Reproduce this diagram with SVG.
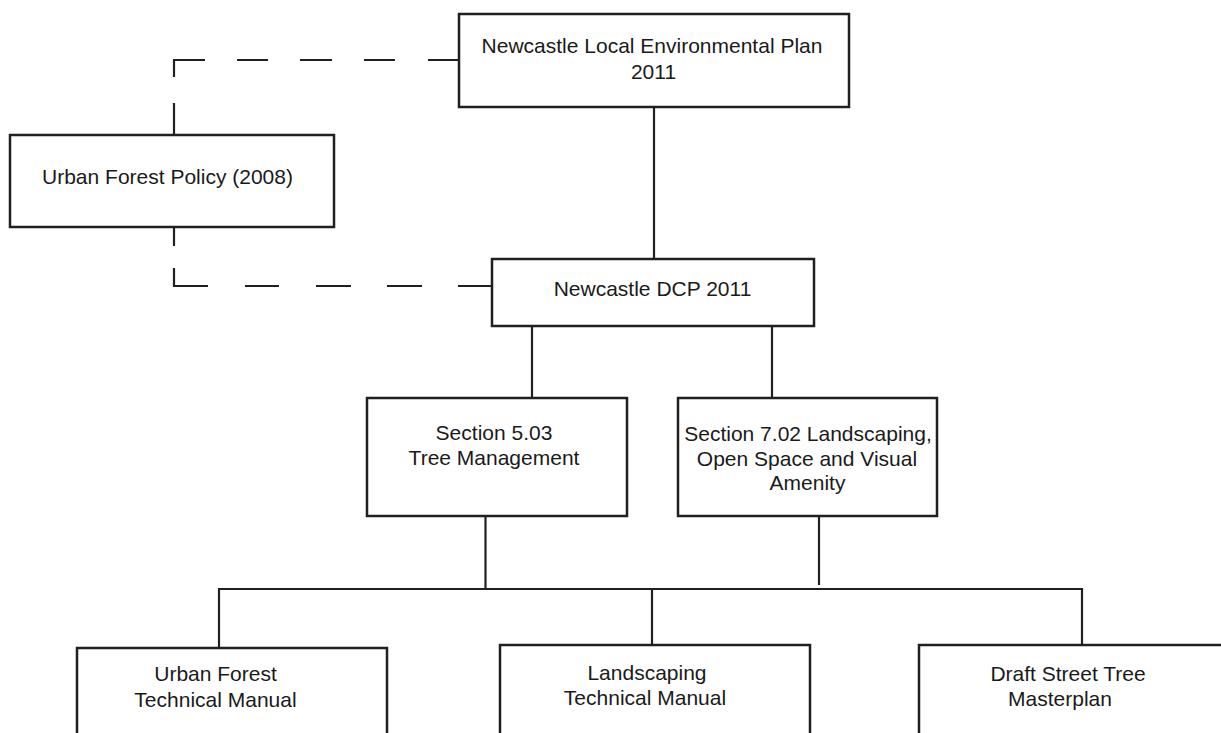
<svg xmlns="http://www.w3.org/2000/svg" width="1221" height="733" viewBox="0 0 1221 733">
<style>
.box{fill:#fff;stroke:#231f20;stroke-width:2.5}
.ln{stroke:#231f20;stroke-width:2.2;fill:none;stroke-linecap:butt}
.t{font-family:"Liberation Sans",Arial,sans-serif;font-size:21px;fill:#1a1a1a;text-anchor:middle}
</style>
<rect width="1221" height="733" fill="#fff"/>
<g id="connectors">
<!-- dashed: LEP to Urban Forest Policy -->
<path class="ln" d="M459 60H428M395 60H364M332 60H300M268 60H237M205 60H174V77M174 103V135"/>
<!-- dashed: Urban Forest Policy to DCP -->
<path class="ln" d="M174 227V246M174 268V286H208M245 286H279M316 286H351M387 286H422M458 286H492"/>
<!-- solid -->
<path class="ln" d="M654 107V259"/>
<path class="ln" d="M532 326V398M772 326V398"/>
<path class="ln" d="M485.5 516V589M819 516V585"/>
<path class="ln" d="M219 648V589H1082V645M652 589V645"/>
</g>
<g id="lep">
<rect class="box" x="459" y="14" width="390" height="93"/>
<text class="t" x="652" y="53">Newcastle Local Environmental Plan</text>
<text class="t" x="653.5" y="79">2011</text>
</g>
<g id="ufp">
<rect class="box" x="10" y="135" width="324" height="92"/>
<text class="t" x="167.5" y="184">Urban Forest Policy (2008)</text>
</g>
<g id="dcp">
<rect class="box" x="492" y="259" width="322" height="67"/>
<text class="t" x="652.5" y="296">Newcastle DCP 2011</text>
</g>
<g id="s503">
<rect class="box" x="367" y="398" width="260" height="118"/>
<text class="t" x="494" y="440">Section 5.03</text>
<text class="t" x="494" y="464.5">Tree Management</text>
</g>
<g id="s702">
<rect class="box" x="678" y="398" width="259" height="118"/>
<text class="t" x="808" y="441">Section 7.02 Landscaping,</text>
<text class="t" x="807" y="465.5">Open Space and Visual</text>
<text class="t" x="807.5" y="490">Amenity</text>
</g>
<g id="uftm">
<rect class="box" x="77" y="648" width="310" height="120"/>
<text class="t" x="215.5" y="681">Urban Forest</text>
<text class="t" x="215.5" y="706.5">Technical Manual</text>
</g>
<g id="ltm">
<rect class="box" x="500" y="645" width="310" height="120"/>
<text class="t" x="647" y="680">Landscaping</text>
<text class="t" x="645" y="705">Technical Manual</text>
</g>
<g id="dstm">
<rect class="box" x="919" y="645" width="320" height="120"/>
<text class="t" x="1068" y="681">Draft Street Tree</text>
<text class="t" x="1060" y="706">Masterplan</text>
</g>
</svg>
